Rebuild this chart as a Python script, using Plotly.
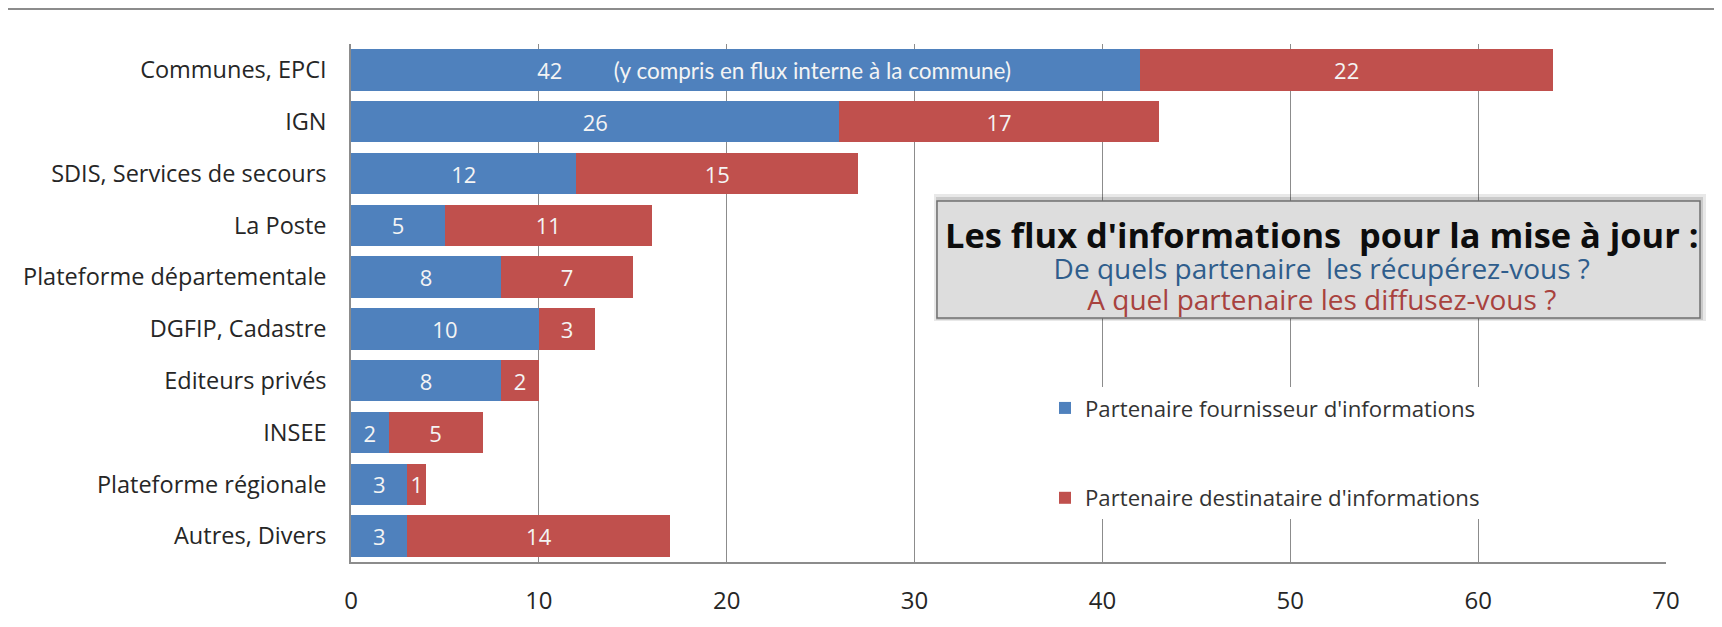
import plotly.graph_objects as go

categories = ["Communes, EPCI", "IGN", "SDIS, Services de secours", "La Poste",
              "Plateforme départementale", "DGFIP, Cadastre", "Editeurs privés",
              "INSEE", "Plateforme régionale", "Autres, Divers"]
fournisseur = [42, 26, 12, 5, 8, 10, 8, 2, 3, 3]
destinataire = [22, 17, 15, 11, 7, 3, 2, 5, 1, 14]
x_ticks = [0, 10, 20, 30, 40, 50, 60, 70]

name_f = "Partenaire fournisseur d'informations"
name_d = "Partenaire destinataire d'informations"
note_communes = "(y compris en flux interne à la commune)"
box_title = "Les flux d'informations \u00a0pour la mise à jour :"
box_line2 = "De quels partenaire \u00a0les récupérez-vous ?"
box_line3 = "A quel partenaire les diffusez-vous ?"

# browser body margin: the figure sits 8px inside the page on every side
OFF = 8
PAGE_W, PAGE_H = 1722, 627
W, H = PAGE_W - 2 * OFF, PAGE_H - 2 * OFF
# plot area in page pixels
L, R, T, B = 351, 1666, 44, 562

def px(x):
    return (x - L) / (R - L)

def py(y):
    return (B - y) / (B - T)

NB = "\u00a0"
text_f = [str(v) for v in fournisseur]
text_f[0] = (NB * 10 + f"{fournisseur[0]}" + NB * 9 +
             f"<span style='font-family:Lato;font-size:22.5px'>{note_communes}</span>")
text_d = [str(v) for v in destinataire]

FONT = "Open Sans"

fig = go.Figure()
fig.add_trace(go.Bar(
    y=categories, x=fournisseur, orientation="h", name=name_f,
    marker=dict(color="#4F81BD", line=dict(width=0)),
    text=text_f, textposition="inside", insidetextanchor="middle", textangle=0,
    textfont=dict(color="#F4F4F4", size=22, family=FONT),
    legendgroup="f",
))
fig.add_trace(go.Bar(
    y=categories, x=destinataire, orientation="h", name=name_d,
    marker=dict(color="#C0504D", line=dict(width=0)),
    text=text_d, textposition="inside", insidetextanchor="middle", textangle=0,
    textfont=dict(color="#F4F4F4", size=22, family=FONT),
    legendgroup="d",
))

shapes = []
# top separator line
shapes.append(dict(type="line", xref="paper", yref="paper",
                   x0=px(8), x1=px(1722), y0=py(9), y1=py(9),
                   line=dict(color="#8C8C8C", width=2), layer="above"))
# info box soft shadow
shapes.append(dict(type="rect", xref="paper", yref="paper",
                   x0=px(934), x1=px(1706), y0=py(321), y1=py(194),
                   fillcolor="rgba(0,0,0,0.09)", line=dict(width=0), layer="above"))
shapes.append(dict(type="rect", xref="paper", yref="paper",
                   x0=px(936), x1=px(1703), y0=py(320), y1=py(197),
                   fillcolor="rgba(0,0,0,0.13)", line=dict(width=0), layer="above"))
# info box
shapes.append(dict(type="rect", xref="paper", yref="paper",
                   x0=px(937), x1=px(1700), y0=py(318), y1=py(201),
                   fillcolor="#DDDDDD", line=dict(color="#707070", width=1.5), layer="above"))

box_text = (f"<b><span style='font-size:34.4px;color:#0D0D0D'>{box_title}</span></b><br>"
            f"<span style='font-size:28px;color:#2F5D8C'>{box_line2}</span><br>"
            f"<span style='font-size:28px;color:#A8423E'>{box_line3}</span>")
annotations = [
    dict(xref="paper", yref="paper", x=px(1322), y=py(264), showarrow=False,
         text=box_text, align="center",
         font=dict(family=FONT, size=24, color="#0D0D0D"), xanchor="center", yanchor="middle"),
]

fig.update_layout(
    width=W, height=H, autosize=False,
    margin=dict(l=L - OFF, r=(PAGE_W - OFF) - R, t=T - OFF, b=(PAGE_H - OFF) - B, pad=0),
    barmode="stack", bargap=0.2,
    plot_bgcolor="white", paper_bgcolor="white",
    font=dict(family=FONT, color="#262626"),
    showlegend=True,
    legend=dict(x=px(1045), y=py(387), xanchor="left", yanchor="top",
                bgcolor="white", font=dict(size=22.2, color="#333333", family=FONT),
                traceorder="grouped", tracegroupgap=58, itemclick=False),
    shapes=shapes, annotations=annotations,
)
fig.update_xaxes(range=[0, 70], tickvals=x_ticks, ticktext=[str(v) for v in x_ticks],
                 showgrid=True, gridcolor="#8C8C8C", gridwidth=1,
                 showline=True, linecolor="#8C8C8C", linewidth=1.5,
                 zeroline=False, ticks="", ticklabelstandoff=16, automargin=False,
                 tickfont=dict(size=24, color="#262626", family=FONT), fixedrange=True)
fig.update_yaxes(categoryorder="array", categoryarray=categories, autorange="reversed",
                 showgrid=False, showline=True, linecolor="#8C8C8C", linewidth=1.5,
                 ticks="", ticklabelstandoff=18, automargin=False,
                 tickfont=dict(size=23.5, color="#262626", family=FONT), fixedrange=True)

fig.write_html("out.html")
